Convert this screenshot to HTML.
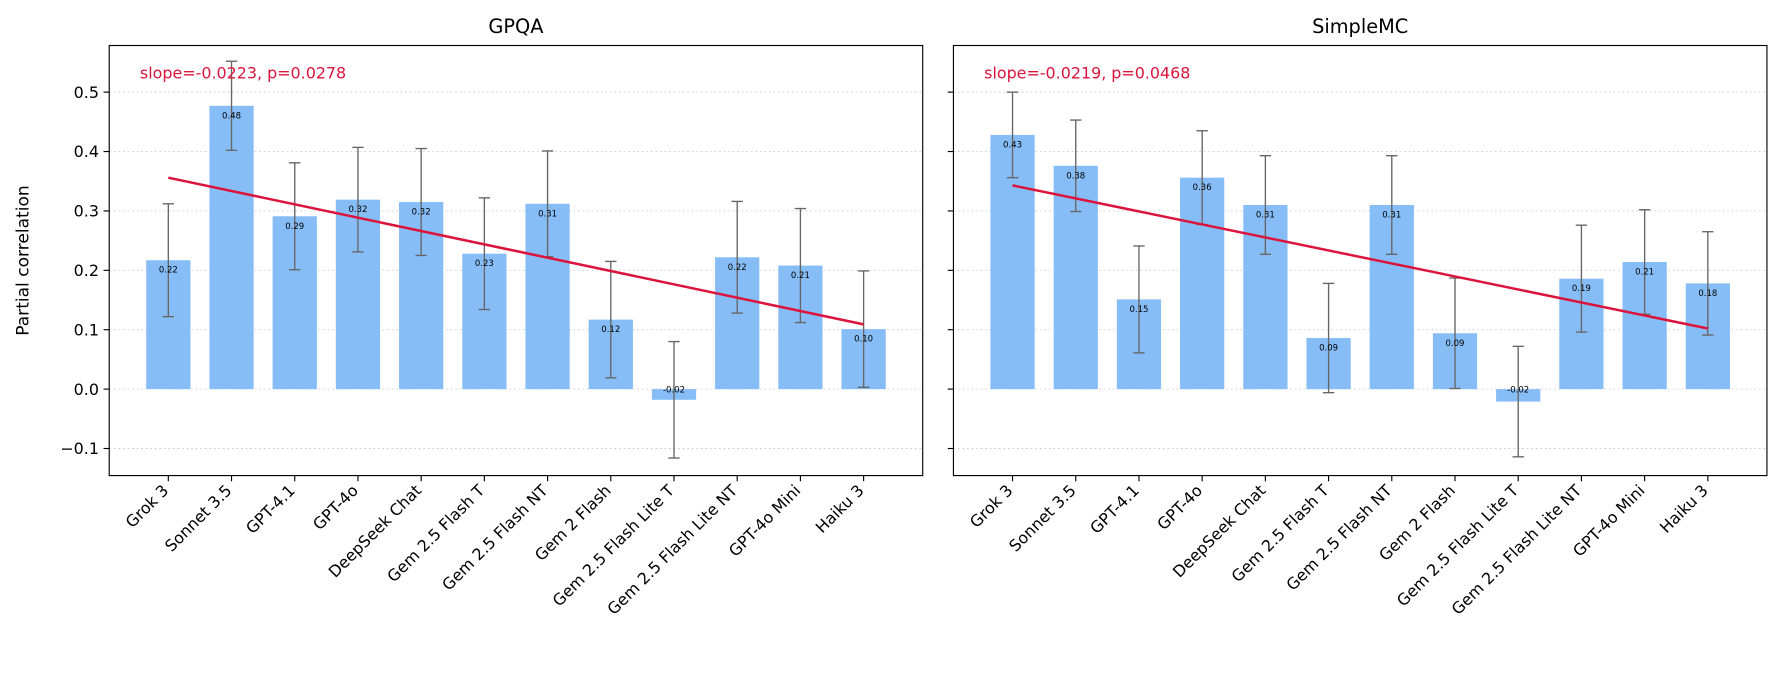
<!DOCTYPE html>
<html><head><meta charset="utf-8"><style>body{margin:0;background:#fff}svg{font-family:"DejaVu Sans","Liberation Sans",sans-serif;display:block}</style></head>
<body>
<svg id="chart" width="1784" height="683" viewBox="0 0 1568 600.3" preserveAspectRatio="none" xmlns="http://www.w3.org/2000/svg"></svg>
<script>
const categories = ["Grok 3","Sonnet 3.5","GPT-4.1","GPT-4o","DeepSeek Chat","Gem 2.5 Flash T","Gem 2.5 Flash NT","Gem 2 Flash","Gem 2.5 Flash Lite T","Gem 2.5 Flash Lite NT","GPT-4o Mini","Haiku 3"];
const gpqaValues = [0.217,0.477,0.291,0.319,0.315,0.228,0.312,0.117,-0.018,0.222,0.208,0.101];
const gpqaErrors = [0.095,0.075,0.090,0.088,0.090,0.094,0.089,0.098,0.098,0.094,0.096,0.098];
const gpqaTrend = [0.356,0.109];
const gpqaLabel = "slope=-0.0223, p=0.0278";
const smcValues = [0.428,0.376,0.151,0.356,0.310,0.086,0.310,0.094,-0.021,0.186,0.214,0.178];
const smcErrors = [0.072,0.077,0.090,0.079,0.083,0.092,0.083,0.093,0.093,0.090,0.088,0.087];
const smcTrend = [0.343,0.102];
const smcLabel = "slope=-0.0219, p=0.0468";
const yTicks = [-0.1,0.0,0.1,0.2,0.3,0.4,0.5];
const yTickLabels = ["\u22120.1","0.0","0.1","0.2","0.3","0.4","0.5"];

const svgEl = document.getElementById('chart');
const NS = 'http://www.w3.org/2000/svg';
function mk(tag, attrs, parent){const e=document.createElementNS(NS,tag);for(const k in attrs)e.setAttribute(k,attrs[k]);(parent||svgEl).appendChild(e);return e;}
const axTop=40, axBottom=418, yMin=-0.1456, yMax=0.5785;
function yPos(v){return axBottom-(v-yMin)/(yMax-yMin)*(axBottom-axTop);}

function panel(x0, x1, title, vals, errs, trend, lbl, showY, key){
  const g = mk('g',{});
  
  
  const xMin=-0.935, xMax=11.935;
  const xPos = i => x0+(i-xMin)/(xMax-xMin)*(x1-x0);
  const bw = 0.7*(x1-x0)/(xMax-xMin);
  yTicks.forEach((t,k)=>{
    const gl=mk('line',{x1:x0,x2:x1,y1:yPos(t),y2:yPos(t),stroke:'#ccc','stroke-width':0.8,'stroke-dasharray':'1.5,2.5'},g);
    
    
    mk('line',{x1:x0-5,x2:x0,y1:yPos(t),y2:yPos(t),stroke:'#000','stroke-width':1},g);
    if(showY){const tl=mk('text',{x:x0-9,y:yPos(t)+5,'text-anchor':'end','font-size':14},g);tl.textContent=yTickLabels[k];
      
      }
  });
  vals.forEach((v,i)=>{
    const cx=xPos(i);
    const r=mk('rect',{x:cx-bw/2,y:Math.min(yPos(v),yPos(0)),width:bw,height:Math.abs(yPos(v)-yPos(0)),fill:'#87bdf7'},g);
    
    
    const e=errs[i];
    mk('line',{x1:cx,x2:cx,y1:yPos(v+e),y2:yPos(v-e),stroke:'#666','stroke-width':1.2},g);
    mk('line',{x1:cx-5,x2:cx+5,y1:yPos(v+e),y2:yPos(v+e),stroke:'#666','stroke-width':1.2},g);
    mk('line',{x1:cx-5,x2:cx+5,y1:yPos(v-e),y2:yPos(v-e),stroke:'#666','stroke-width':1.2},g);
    const vt=mk('text',{x:cx,y:v>=0?yPos(v)+11:yPos(0)+3,'text-anchor':'middle','font-size':7.5},g);
    vt.textContent=v.toFixed(2);
    
    
    mk('line',{x1:cx,x2:cx,y1:axBottom,y2:axBottom+5,stroke:'#000','stroke-width':1},g);
    const tx=cx+1, ty=axBottom+14;
    const xl=mk('text',{x:tx,y:ty,'text-anchor':'end','font-size':14,transform:`rotate(-45 ${tx} ${ty})`},g);
    xl.textContent=categories[i];
    
    
  });
  const tr=mk('line',{x1:xPos(0),x2:xPos(vals.length-1),y1:yPos(trend[0]),y2:yPos(trend[1]),stroke:'#dc143c','stroke-width':2.2},g);
  
  
  const st=mk('text',{x:x0+27,y:69,'font-size':14,fill:'#dc143c'},g);
  st.textContent=lbl;
  
  
  mk('rect',{x:x0,y:axTop,width:x1-x0,height:axBottom-axTop,fill:'none',stroke:'#000','stroke-width':1},g);
  const tt=mk('text',{x:(x0+x1)/2,y:29,'text-anchor':'middle','font-size':17},g);
  tt.textContent=title;
  
  
}
panel(96,811,'GPQA',gpqaValues,gpqaErrors,gpqaTrend,gpqaLabel,true,'gpqa');
panel(838,1553,'SimpleMC',smcValues,smcErrors,smcTrend,smcLabel,false,'simplemc');
const yl=mk('text',{x:25,y:229,'text-anchor':'middle','font-size':15,transform:'rotate(-90 25 229)'});
yl.textContent='Partial correlation';


</script>
</body></html>
